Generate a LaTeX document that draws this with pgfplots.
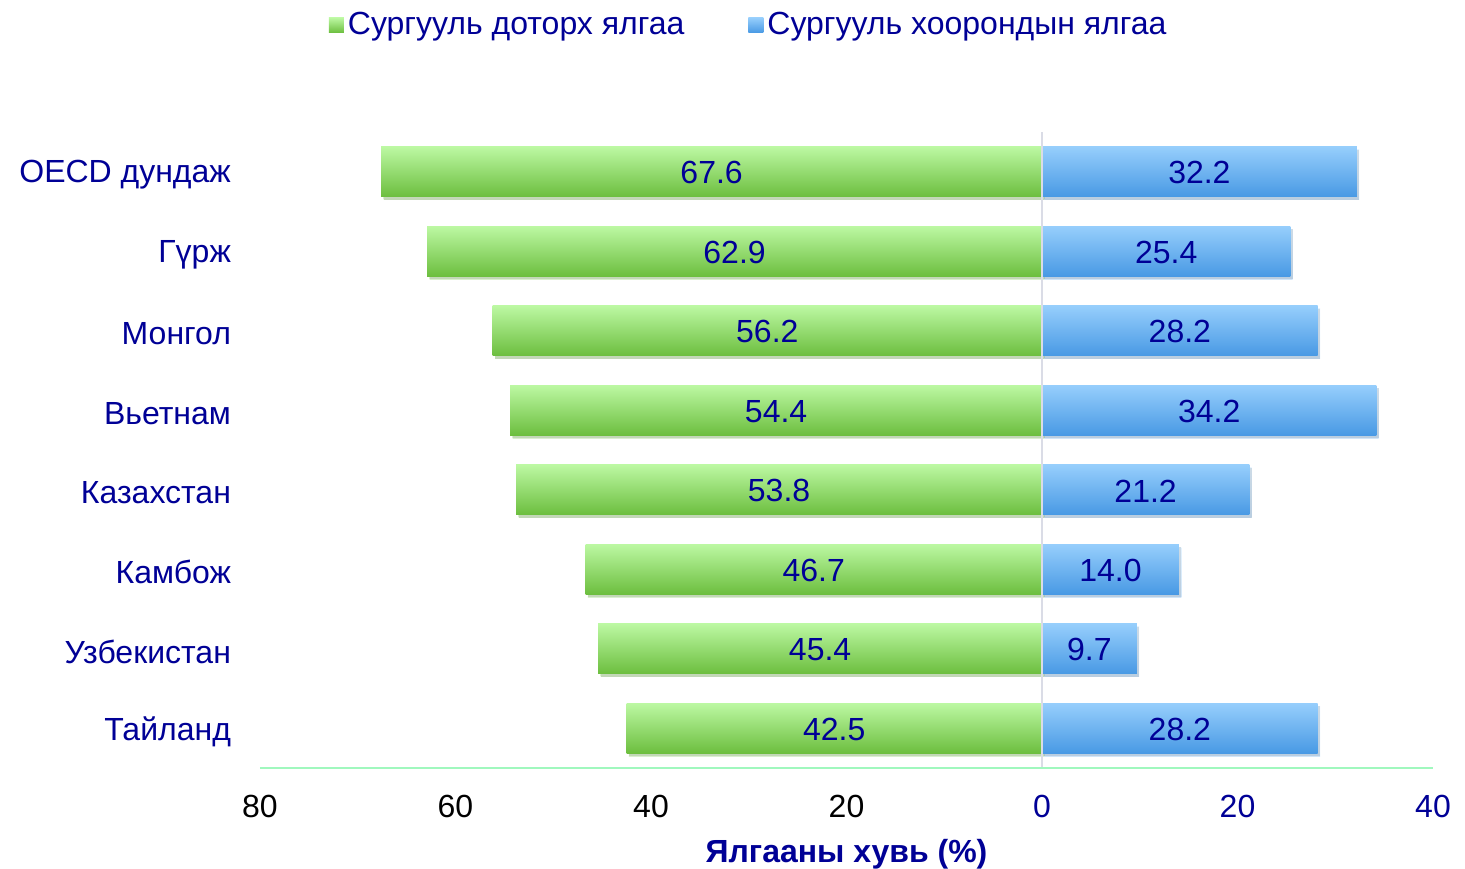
\documentclass[border=0pt]{standalone}
\usepackage{fontspec}
\setmainfont{Liberation Sans}
\usepackage{pgfplots}
\usepackage{pgfplotstable}
\usetikzlibrary{shadows}
\pgfplotsset{compat=1.18}
\definecolor{lab}{RGB}{0,0,150}
\definecolor{gtop}{RGB}{188,248,162}
\definecolor{gbot}{RGB}{108,190,62}
\definecolor{btop}{RGB}{150,206,252}
\definecolor{bbot}{RGB}{72,153,228}
\definecolor{axgreen}{RGB}{160,248,190}
\definecolor{zline}{RGB}{218,220,230}
\pgfplotstableread{
y within between wlab blab
0 67.6 32.2 67.6 32.2
1 62.9 25.4 62.9 25.4
2 56.2 28.2 56.2 28.2
3 54.4 34.2 54.4 34.2
4 53.8 21.2 53.8 21.2
5 46.7 14.0 46.7 14.0
6 45.4 9.7 45.4 9.7
7 42.5 28.2 42.5 28.2
}\data
\begin{document}
\fontsize{16}{19}\selectfont
\begin{tikzpicture}
\begin{axis}[
  at={(0,0)}, anchor=south west,
  scale only axis, width=586.5pt, height=318pt,
  xmin=-80, xmax=40, ymin=-0.5, ymax=7.5, y dir=reverse,
  axis line style={draw=none}, tick style={draw=none},
  xtick={-80,-60,-40,-20}, xticklabels={80,60,40,20},
  extra x ticks={0,20,40}, extra x tick labels={0,20,40},
  extra x tick style={tick label style={text=lab}},
  xticklabel style={font=\fontsize{16}{19}\selectfont, yshift=-8pt},
  ytick={0,...,7},
  yticklabels={OECD дундаж,Гүрж,Монгол,Вьетнам,Казахстан,Камбож,Узбекистан,Тайланд},
  yticklabel style={font=\fontsize{16}{19}\selectfont, text=lab, xshift=-9pt, yshift=-1.5pt},
  xlabel={\bfseries Ялгааны хувь (\%)},
  xlabel style={at={(axis description cs:0.5,-0.135)}, anchor=center, text=lab, font=\fontsize{16}{19}\selectfont},
  clip=false,
  legend style={at={(0.4175,1.168)}, anchor=center, draw=none, fill=none,
    legend columns=2, font=\fontsize{16}{19}\selectfont, text=lab,
    /tikz/every even column/.append style={column sep=30pt},
    legend cell align=left},
]
\addplot[xbar, draw=none, fill=none,
  legend image code/.code={\path[top color=gtop, bottom color=gbot] (-5pt,-3.75pt) rectangle (2.5pt,3.75pt);}]
  coordinates {(0,100)};
\addlegendentry{Сургууль доторх ялгаа}
\addplot[xbar, draw=none, fill=none,
  legend image code/.code={\path[top color=btop, bottom color=bbot] (-5pt,-3.75pt) rectangle (2.5pt,3.75pt);}]
  coordinates {(0,100)};
\addlegendentry{Сургууль хоорондын ялгаа}
\pgfplotsinvokeforeach{0,...,7}{
\addplot[forget plot, xbar, bar width=0.63, bar shift=0pt, draw=none, top color=gtop, bottom color=gbot,
  drop shadow={shadow xshift=1.2pt, shadow yshift=-1.5pt, opacity=0.25}]
  table[x expr=-\thisrow{within}, y=y, restrict expr to domain={\thisrow{y}}{#1:#1}] {\data};
\addplot[forget plot, xbar, bar width=0.63, bar shift=0pt, draw=none, top color=btop, bottom color=bbot,
  drop shadow={shadow xshift=1.2pt, shadow yshift=-1.5pt, opacity=0.25}]
  table[x=between, y=y, restrict expr to domain={\thisrow{y}}{#1:#1}] {\data};
}
\addplot[forget plot, only marks, mark=none, nodes near coords, point meta=explicit symbolic,
  nodes near coords style={anchor=center, text=lab, font=\fontsize{16}{19}\selectfont, yshift=-0.5pt}]
  table[x expr=-\thisrow{within}/2, y=y, meta=wlab] {\data};
\addplot[forget plot, only marks, mark=none, nodes near coords, point meta=explicit symbolic,
  nodes near coords style={anchor=center, text=lab, font=\fontsize{16}{19}\selectfont, yshift=-0.5pt}]
  table[x expr=\thisrow{between}/2, y=y, meta=blab] {\data};
\draw[zline, line width=1pt] (axis cs:0,-0.5) -- (axis cs:0,7.5);
\draw[axgreen, line width=1pt] (rel axis cs:0,0) -- (rel axis cs:1,0);
\end{axis}
\pgfresetboundingbox
\path (-130pt,-50pt) rectangle (602.5pt,384pt);
\end{tikzpicture}
\end{document}
